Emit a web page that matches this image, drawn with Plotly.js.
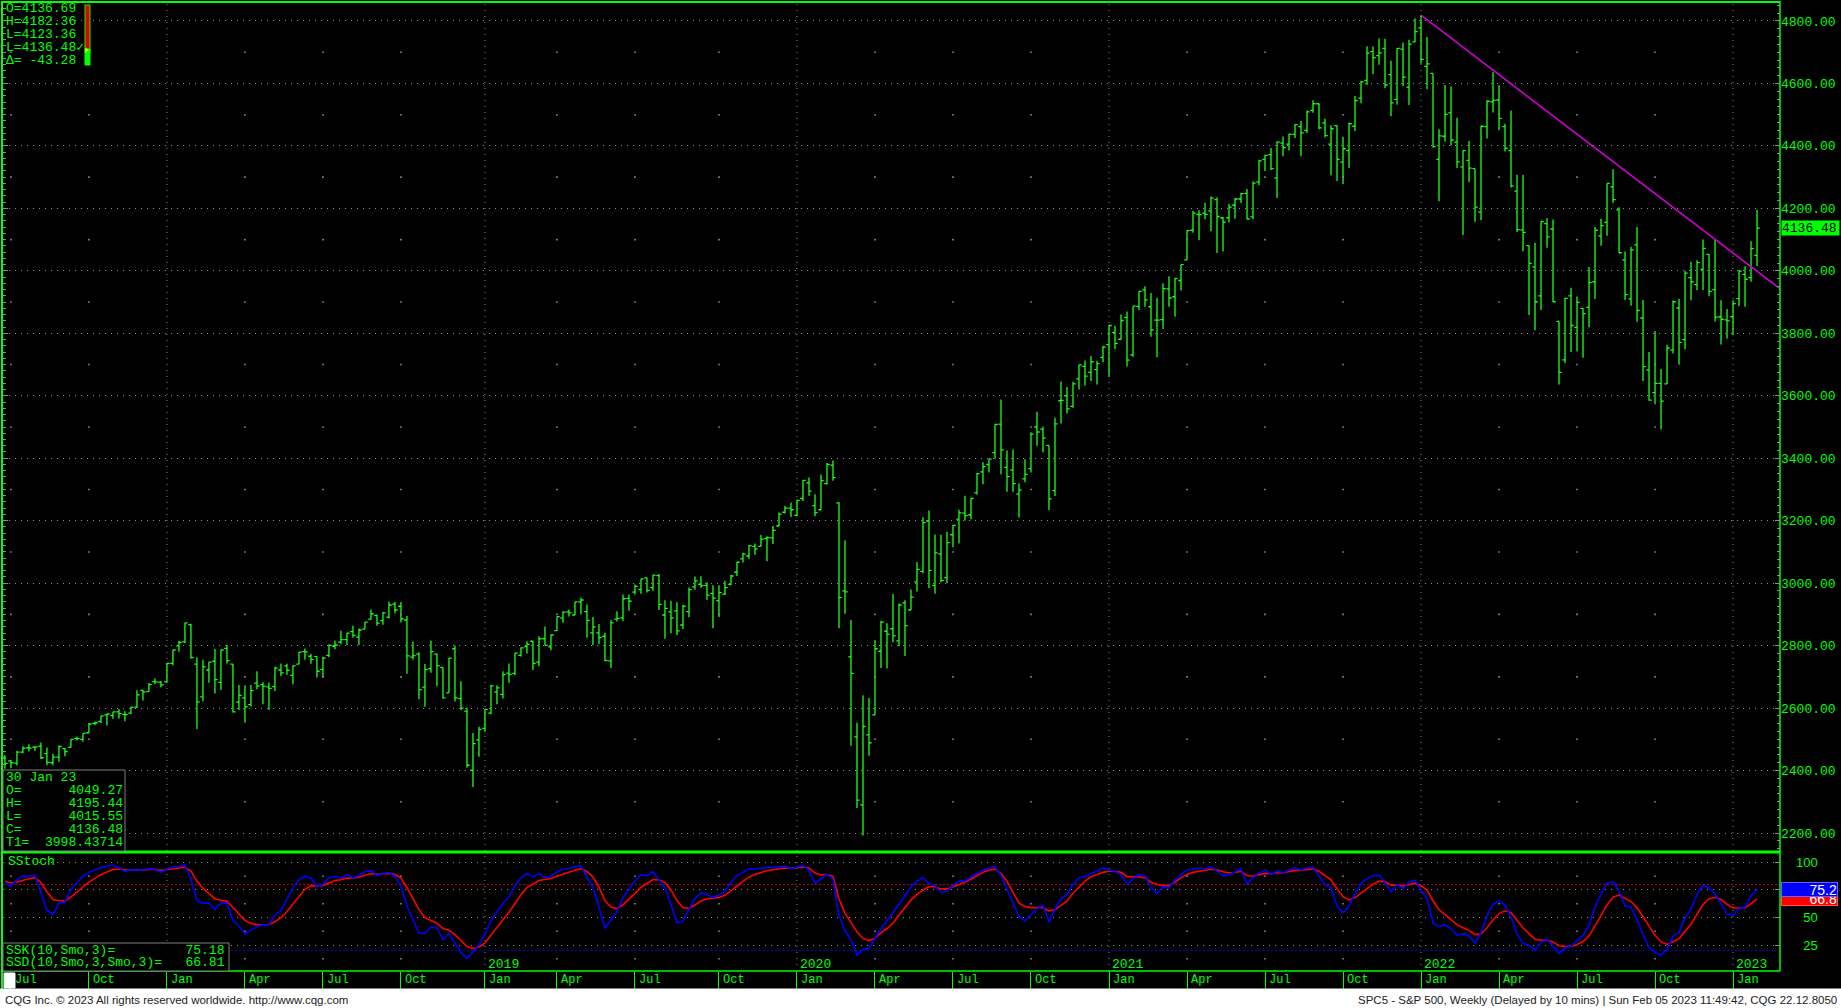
<!DOCTYPE html>
<html><head><meta charset="utf-8">
<script src="https://cdn.plot.ly/plotly-3.0.1.min.js"></script>
<style>html,body{margin:0;padding:0;background:#000;overflow:hidden}#chart{width:1841px;height:1008px}</style>
</head><body><div id="chart"></div>
<script>
// ---------------- DATA ----------------
const weekDates = [
'2017-06-26','2017-07-03','2017-07-10','2017-07-17','2017-07-24','2017-07-31','2017-08-07','2017-08-14','2017-08-21','2017-08-28','2017-09-04','2017-09-11','2017-09-18','2017-09-25','2017-10-02','2017-10-09','2017-10-16','2017-10-23','2017-10-30','2017-11-06','2017-11-13','2017-11-20','2017-11-27','2017-12-04','2017-12-11','2017-12-18','2017-12-25',
'2018-01-01','2018-01-08','2018-01-15','2018-01-22','2018-01-29','2018-02-05','2018-02-12','2018-02-19','2018-02-26','2018-03-05','2018-03-12','2018-03-19','2018-03-26','2018-04-02','2018-04-09','2018-04-16','2018-04-23','2018-04-30','2018-05-07','2018-05-14','2018-05-21','2018-05-28','2018-06-04','2018-06-11','2018-06-18','2018-06-25','2018-07-02','2018-07-09','2018-07-16','2018-07-23','2018-07-30','2018-08-06','2018-08-13','2018-08-20','2018-08-27','2018-09-03','2018-09-10','2018-09-17','2018-09-24','2018-10-01','2018-10-08','2018-10-15','2018-10-22','2018-10-29','2018-11-05','2018-11-12','2018-11-19','2018-11-26','2018-12-03','2018-12-10','2018-12-17','2018-12-24','2018-12-31',
'2019-01-07','2019-01-14','2019-01-21','2019-01-28','2019-02-04','2019-02-11','2019-02-18','2019-02-25','2019-03-04','2019-03-11','2019-03-18','2019-03-25','2019-04-01','2019-04-08','2019-04-15','2019-04-22','2019-04-29','2019-05-06','2019-05-13','2019-05-20','2019-05-27','2019-06-03','2019-06-10','2019-06-17','2019-06-24','2019-07-01','2019-07-08','2019-07-15','2019-07-22','2019-07-29','2019-08-05','2019-08-12','2019-08-19','2019-08-26','2019-09-02','2019-09-09','2019-09-16','2019-09-23','2019-09-30','2019-10-07','2019-10-14','2019-10-21','2019-10-28','2019-11-04','2019-11-11','2019-11-18','2019-11-25','2019-12-02','2019-12-09','2019-12-16','2019-12-23','2019-12-30',
'2020-01-06','2020-01-13','2020-01-20','2020-01-27','2020-02-03','2020-02-10','2020-02-17','2020-02-24','2020-03-02','2020-03-09','2020-03-16','2020-03-23','2020-03-30','2020-04-06','2020-04-13','2020-04-20','2020-04-27','2020-05-04','2020-05-11','2020-05-18','2020-05-25','2020-06-01','2020-06-08','2020-06-15','2020-06-22','2020-06-29','2020-07-06','2020-07-13','2020-07-20','2020-07-27','2020-08-03','2020-08-10','2020-08-17','2020-08-24','2020-08-31','2020-09-07','2020-09-14','2020-09-21','2020-09-28','2020-10-05','2020-10-12','2020-10-19','2020-10-26','2020-11-02','2020-11-09','2020-11-16','2020-11-23','2020-11-30','2020-12-07','2020-12-14','2020-12-21','2020-12-28',
'2021-01-04','2021-01-11','2021-01-18','2021-01-25','2021-02-01','2021-02-08','2021-02-15','2021-02-22','2021-03-01','2021-03-08','2021-03-15','2021-03-22','2021-03-29','2021-04-05','2021-04-12','2021-04-19','2021-04-26','2021-05-03','2021-05-10','2021-05-17','2021-05-24','2021-05-31','2021-06-07','2021-06-14','2021-06-21','2021-06-28','2021-07-05','2021-07-12','2021-07-19','2021-07-26','2021-08-02','2021-08-09','2021-08-16','2021-08-23','2021-08-30','2021-09-06','2021-09-13','2021-09-20','2021-09-27','2021-10-04','2021-10-11','2021-10-18','2021-10-25','2021-11-01','2021-11-08','2021-11-15','2021-11-22','2021-11-29','2021-12-06','2021-12-13','2021-12-20','2021-12-27',
'2022-01-03','2022-01-10','2022-01-17','2022-01-24','2022-01-31','2022-02-07','2022-02-14','2022-02-21','2022-02-28','2022-03-07','2022-03-14','2022-03-21','2022-03-28','2022-04-04','2022-04-11','2022-04-18','2022-04-25','2022-05-02','2022-05-09','2022-05-16','2022-05-23','2022-05-30','2022-06-06','2022-06-13','2022-06-20','2022-06-27','2022-07-04','2022-07-11','2022-07-18','2022-07-25','2022-08-01','2022-08-08','2022-08-15','2022-08-22','2022-08-29','2022-09-05','2022-09-12','2022-09-19','2022-09-26','2022-10-03','2022-10-10','2022-10-17','2022-10-24','2022-10-31','2022-11-07','2022-11-14','2022-11-21','2022-11-28','2022-12-05','2022-12-12','2022-12-19','2022-12-26',
'2023-01-02','2023-01-09','2023-01-16','2023-01-23','2023-01-30'];

const openVals = [
2443,2431,2424,2459,2473,2475,2478,2454,2425,2443,2470,2474,2503,2500,2521,2551,2557,2578,2576,2588,2580,2584,2603,2657,2653,2685,2683,
2684,2743,2799,2812,2867,2741,2636,2722,2750,2682,2791,2741,2619,2633,2611,2680,2675,2668,2669,2722,2735,2705,2741,2781,2766,2765,2724,2769,2798,2811,2819,2845,2827,2853,2885,2897,2880,2891,2933,2926,2882,2763,2773,2667,2726,2773,2730,2649,2790,2630,2590,2401,2498,
2535,2584,2651,2644,2712,2711,2769,2797,2814,2747,2822,2796,2848,2888,2908,2898,2940,2909,2841,2841,2830,2751,2885,2889,2951,2971,2980,3017,2986,3024,2898,2908,2911,2866,2909,2988,2996,2993,2967,2944,2965,2996,3035,3078,3087,3118,3118,3143,3145,3183,3227,3240,
3217,3271,3321,3248,3235,3319,3378,3257,2975,2764,2508,2290,2514,2578,2782,2846,2854,2815,2937,2914,3004,3038,3199,2993,3094,3018,3155,3205,3224,3219,3289,3356,3380,3418,3509,3371,3363,3285,3334,3367,3500,3493,3441,3296,3584,3600,3566,3654,3694,3675,3684,3723,
3764,3803,3781,3851,3731,3886,3939,3885,3842,3844,3942,3917,3969,4035,4130,4181,4185,4192,4228,4170,4170,4210,4230,4248,4173,4285,4357,4372,4297,4409,4406,4438,4462,4450,4514,4535,4474,4406,4465,4348,4385,4463,4553,4610,4702,4689,4712,4628,4549,4710,4588,4733,
4778,4655,4632,4357,4431,4506,4412,4333,4354,4327,4188,4462,4541,4547,4462,4385,4255,4131,4081,4013,3920,4151,4134,3838,3715,3920,3819,3880,3883,3965,4112,4155,4269,4195,4035,3910,4083,3849,3683,3610,3640,3638,3746,3881,3780,3978,3956,4005,4053,3940,3853,3843,
3853,3911,3989,3978,4049.27];

const highVals = [
2450,2434,2463,2478,2484,2478,2490,2474,2454,2480,2472,2500,2509,2519,2552,2557,2575,2582,2588,2597,2590,2605,2657,2659,2680,2695,2687,
2745,2787,2815,2873,2870,2763,2755,2748,2789,2787,2802,2741,2674,2673,2674,2718,2683,2682,2732,2743,2742,2737,2779,2791,2774,2765,2764,2804,2816,2848,2841,2864,2855,2876,2916,2900,2908,2941,2940,2940,2895,2813,2779,2741,2816,2775,2730,2760,2800,2686,2601,2520,2540,
2597,2675,2673,2718,2743,2776,2795,2814,2816,2830,2861,2836,2893,2910,2916,2940,2954,2932,2892,2869,2841,2882,2910,2964,2964,2996,3014,3018,3028,3029,2945,2944,2939,2930,2986,3021,3022,3003,2993,2993,3008,3027,3067,3097,3121,3127,3154,3150,3183,3226,3247,3258,
3267,3330,3338,3285,3348,3385,3393,3259,3137,2882,2553,2641,2632,2818,2880,2872,2965,2935,2945,2980,3068,3211,3233,3156,3155,3165,3187,3235,3280,3272,3352,3387,3399,3509,3588,3425,3428,3320,3397,3483,3549,3502,3441,3530,3646,3628,3645,3699,3713,3727,3712,3760,
3827,3824,3860,3870,3887,3935,3951,3929,3914,3960,3983,3978,4020,4130,4192,4194,4218,4238,4236,4172,4214,4233,4249,4262,4286,4356,4372,4393,4415,4430,4440,4469,4480,4513,4546,4536,4487,4466,4466,4429,4475,4560,4608,4719,4718,4744,4743,4673,4713,4731,4740,4808,
4819,4749,4632,4453,4595,4590,4490,4386,4416,4327,4465,4546,4637,4594,4471,4513,4308,4307,4081,4090,4158,4169,4164,3838,3913,3946,3918,3880,4012,4140,4167,4280,4325,4204,4062,4076,4140,3907,3740,3807,3686,3763,3905,3911,4000,4029,4034,4100,4053,4101,3906,3878,
3906,4003,4015,4095,4195.44];

const lowVals = [
2406,2407,2416,2455,2461,2463,2437,2417,2417,2428,2446,2474,2496,2492,2521,2545,2552,2544,2566,2567,2558,2581,2600,2624,2653,2676,2667,
2683,2737,2780,2808,2759,2533,2622,2681,2647,2658,2743,2586,2594,2553,2605,2660,2612,2594,2655,2703,2707,2676,2740,2755,2742,2698,2698,2763,2788,2804,2802,2825,2802,2853,2883,2864,2867,2887,2904,2874,2710,2755,2628,2604,2713,2670,2631,2649,2621,2593,2409,2347,2444,
2524,2580,2612,2631,2681,2705,2765,2775,2722,2734,2800,2785,2848,2873,2893,2898,2900,2825,2801,2805,2750,2728,2877,2878,2912,2964,2966,2970,2976,2914,2822,2840,2834,2853,2891,2979,2985,2946,2856,2892,2962,2993,3023,3066,3078,3091,3117,3070,3125,3183,3223,3212,
3214,3263,3280,3214,3235,3316,3328,2856,2902,2479,2280,2192,2447,2578,2728,2727,2811,2798,2767,2914,2973,3032,2984,2966,3003,3000,3115,3127,3201,3205,3284,3317,3354,3398,3349,3293,3292,3210,3323,3354,3440,3419,3234,3279,3511,3543,3562,3620,3633,3647,3636,3707,
3662,3750,3780,3694,3725,3875,3885,3789,3723,3814,3885,3853,3937,4035,4122,4098,4165,4127,4057,4062,4155,4167,4217,4165,4165,4275,4320,4323,4233,4367,4385,4425,4367,4441,4506,4453,4428,4306,4288,4278,4329,4448,4537,4595,4630,4660,4585,4495,4532,4592,4531,4733,
4663,4582,4395,4223,4414,4401,4329,4115,4284,4157,4162,4424,4507,4450,4382,4267,4124,4063,3859,3810,3875,4074,3900,3636,3705,3740,3742,3722,3819,3910,4080,4112,4218,4057,3907,3888,3837,3647,3584,3573,3492,3638,3735,3699,3749,3906,3938,3939,3919,3838,3764,3783,
3795,3887,3885,3965,4015.55];

const closeVals = [
2423,2425,2459,2472,2472,2476,2441,2426,2443,2477,2461,2500,2502,2519,2549,2553,2575,2581,2588,2582,2579,2602,2642,2652,2675,2684,2674,
2743,2786,2810,2873,2762,2620,2732,2747,2691,2786,2752,2588,2641,2604,2656,2670,2670,2663,2728,2713,2721,2735,2779,2780,2755,2718,2760,2801,2802,2819,2840,2833,2850,2875,2902,2872,2905,2930,2914,2886,2767,2768,2659,2723,2781,2736,2633,2760,2633,2600,2417,2486,2532,
2596,2671,2665,2707,2708,2776,2793,2804,2743,2822,2801,2834,2893,2907,2905,2940,2946,2881,2860,2826,2752,2873,2887,2950,2942,2990,3014,2977,3026,2932,2919,2889,2847,2926,2979,3007,2992,2962,2952,2970,2986,3023,3067,3093,3120,3110,3141,3146,3169,3221,3240,3235,
3265,3329,3295,3226,3328,3380,3338,2954,2972,2711,2305,2541,2489,2790,2875,2837,2831,2930,2864,2955,3044,3194,3041,3097,3009,3130,3185,3225,3216,3271,3351,3373,3397,3508,3427,3341,3319,3298,3348,3477,3484,3465,3270,3510,3585,3558,3638,3699,3663,3709,3703,3756,
3825,3768,3841,3714,3887,3934,3907,3811,3842,3943,3913,3975,4020,4129,4185,4180,4181,4233,4174,4156,4204,4230,4247,4166,4281,4352,4370,4327,4412,4395,4437,4468,4442,4509,4535,4458,4433,4455,4357,4391,4471,4545,4605,4697,4683,4698,4595,4538,4712,4620,4726,4766,
4677,4663,4398,4432,4501,4419,4349,4385,4329,4204,4463,4543,4546,4488,4392,4272,4132,4123,4024,3901,4158,4109,3901,3675,3912,3825,3899,3863,3962,4130,4145,4280,4228,4058,3924,4067,3873,3693,3586,3640,3583,3753,3901,3771,3993,3965,4026,4072,3934,3852,3845,3840,
3895,3999,3973,4071,4136.48];

const sskVals = [
82,78.3,84.2,87.8,87.5,88.3,72.9,56.6,52.4,63.3,63.9,75.9,81.3,87.5,91.0,93.0,95.3,96.5,97.7,95.1,91.7,93.5,92.7,93.5,94.3,93.9,91.3,
93.9,95.9,96.6,97.7,84.8,65.2,63.1,63.1,57.4,62.9,63.3,47.5,42.3,35.2,38.8,41.5,43.3,43.5,52.3,56.2,66.8,76.5,84.3,87.5,85.7,78.1,80.1,86.1,87.4,85.9,88.9,86.3,88.2,91.8,92.5,88.3,89.9,90.9,87.6,78.4,60.6,48.7,35.8,35.5,41.3,40.5,30.0,35.3,26.5,18.3,12.9,18.6,25.4,
34.6,47.1,54.7,62.8,68.5,79.0,86.0,90.0,86.7,90.1,86.4,87.3,91.5,94.0,94.3,96.2,96.5,87.3,77.2,59.5,40.0,48.0,55.3,68.2,75.8,83.2,88.8,87.9,91.6,83.7,76.8,61.9,45.3,46.9,56.6,67.4,72.3,70.9,68.3,70.2,73.8,81.9,87.9,91.3,94.2,94.1,94.7,95.5,95.3,96.2,96.5,94.3,
95.9,97.3,92.9,81.3,85.2,89.5,84.3,52,38,30,16,21,22,31,40,47,54,62,70,78,83,86,81,79,73,74,79,83,83,87,90,93,95,96,88,76,63,51,47,53,58,61,46,58,67,71,80,86,87,90,92,95,
93,92,89,80,85,89,88,77,72,78,77,84,89,93,94,95,94.3,95.9,92.3,87.9,88.9,91.6,94.1,80.4,86.3,90.5,93.3,88.9,92.3,90.5,93.3,95.5,93.0,95.0,95.5,87.7,79.8,76.9,60.3,54.2,60.1,71.7,80.8,85.5,87.7,88.5,81.7,73.1,79.7,76.5,82.3,83.9,
74.6,67.1,45.1,41.7,43.5,40.0,33.7,35.1,33.4,26.6,36.1,51.7,62.1,65.1,61.1,50.7,34.8,26.5,24.7,20.1,27.4,30.3,24.2,17.5,22.0,24.0,29.0,33.7,42.8,59.5,71.3,80.9,82.6,74.1,60.4,59.3,47.9,34.3,22.9,18.3,15.9,20.9,32.9,36.3,49.9,57.6,71.2,79.1,77.1,71.1,62.4,53.3,
51.9,58.3,59.5,70.0,75.18];

const ssdVals = [
83,81.4,82.3,84.1,85.2,86.2,81.8,73.4,66.4,65.4,64.9,68.6,72.8,77.7,82.1,85.7,88.9,91.4,93.5,94.0,93.2,93.3,93.1,93.2,93.6,93.7,92.9,
93.2,94.1,94.9,95.8,92.1,83.1,76.4,72.0,67.1,65.7,64.9,59.1,53.5,47.4,44.5,43.5,43.4,43.4,46.4,49.7,55.4,62.4,69.7,75.6,79.0,78.7,79.2,81.5,83.5,84.3,85.8,86.0,86.7,88.4,89.8,89.3,89.5,90.0,89.2,85.6,77.3,67.8,57.1,49.9,47.0,44.8,39.9,38.4,34.4,29.0,23.6,21.9,23.1,
26.9,33.6,40.6,48.0,54.8,62.9,70.6,77.1,80.3,83.6,84.5,85.4,87.4,89.6,91.2,92.9,94.1,91.8,86.9,77.8,65.2,59.5,58.1,61.5,66.3,71.9,77.5,81.0,84.5,84.2,81.7,75.1,65.2,59.1,58.3,61.3,65.0,67.0,67.4,68.3,70.1,74.0,78.6,82.8,86.6,89.1,91.0,92.5,93.4,94.3,95.0,94.8,
95.2,95.9,94.9,90.4,88.7,89.0,87.4,67,54,45,37,31,29,31,36,40,45,52,59,66,71,75,78,78,76,76,78,80,82,85,88,91,93,94,90,83,73,63,60,59,59,59,56,57,61,65,72,78,83,87,89,91,
92,92,91,87,87,87,86,82,80,79,79,82,86,89,91,92,92.8,93.8,93.3,91.5,90.6,90.9,92.0,88.1,87.5,88.5,90.1,89.7,90.6,90.6,91.5,92.8,92.9,93.6,94.2,92.0,87.9,84.2,76.2,68.9,66.0,67.9,72.2,76.6,80.3,83.0,82.6,79.4,79.5,78.5,79.8,81.2,
79.0,75.0,65.0,57.2,52.6,48.4,43.5,40.7,38.3,34.4,35.0,40.6,47.8,53.6,56.1,54.3,47.8,40.7,35.4,30.3,29.3,29.6,27.8,24.4,23.6,23.7,25.5,28.2,33.1,41.9,51.7,61.4,68.5,70.4,67.1,64.5,59.0,50.8,41.5,33.8,27.8,25.5,28.0,30.8,37.2,44.0,53.1,61.8,66.9,68.3,66.3,62.0,
58.6,58.5,58.8,62.5,66.81];

const trendDates = ['2022-01-03', '2023-02-27'];
const trendVals = [4818.62, 3939.9];

const quarterDates = ['2017-07-03','2017-10-02','2018-01-01','2018-04-02','2018-07-02','2018-10-01','2019-01-07','2019-04-01','2019-07-01','2019-10-07','2020-01-06','2020-04-06','2020-07-06','2020-10-05','2021-01-04','2021-04-05','2021-07-05','2021-10-04','2022-01-03','2022-04-04','2022-07-04','2022-10-03','2023-01-02'];
const quarterLabels = ['Jul','Oct','Jan','Apr','Jul','Oct','Jan','Apr','Jul','Oct','Jan','Apr','Jul','Oct','Jan','Apr','Jul','Oct','Jan','Apr','Jul','Oct','Jan'];
const yearDates = ['2019-01-07','2020-01-06','2021-01-04','2022-01-03','2023-01-02'];
const yearLabels = ['2019','2020','2021','2022','2023'];
const priceTicks = [2200,2400,2600,2800,3000,3200,3400,3600,3800,4000,4200,4400,4600,4800];
const stochTicks = [25,50,75,100];
const stochTickText = ['\u00a0\u00a025','\u00a0\u00a050','','100'];
const stochBands = [20, 80];

const quoteLines = ['O=4136.69','H=4182.36','L=4123.36','L=4136.48\u2713','\u0394= -43.28'];
const barInfoDate = '30 Jan 23';
const barInfoLabels = ['O=','H=','L=','C=','T1='];
const barInfoValues = ['4049.27','4195.44','4015.55','4136.48','3998.43714'];
const stochInfoLabels = ['SSK(10,Smo,3)=','SSD(10,Smo,3,Smo,3)='];
const stochInfoValues = ['75.18','66.81'];
const footerLeft = 'CQG Inc. \u00a9 2023 All rights reserved worldwide. http://www.cqg.com';
const footerRight = 'SPC5 - S&P 500, Weekly (Delayed by 10 mins) | Sun Feb 05 2023 11:49:42, CQG 22.12.8050';

// ---------------- LAYOUT HELPERS ----------------
const W = 1841, H = 1008, PL = 3, PR = 1780, PT = 3, PB = 971;
const px = x => (x - PL) / (PR - PL);
const py = y => (PB - y) / (PB - PT);
const sepY = py(852);
const GREEN = '#00ff00', BAR = '#1cff1c', GRID = '#8c8c8c';
const MONO = 'Liberation Mono, DejaVu Sans Mono, monospace';
const SANS = 'Liberation Sans, Arial, sans-serif';
const nb = n => '\u00a0'.repeat(Math.max(0, n));
const padLine = (a, b, w) => a + nb(w - a.length - b.length) + b;

// minor grid dots at quarter columns (non-January) and half levels
const minorCols = quarterDates.filter((d, i) => quarterLabels[i] !== 'Jan');
const priceHalf = priceTicks.slice(0, -1).map((v, i) => (v + priceTicks[i + 1]) / 2);
const stochHalf = stochTicks.map(v => v - 12.5);
const dotX = [], dotY = [], dot2X = [], dot2Y = [];
minorCols.forEach(d => {
  priceHalf.forEach(v => { dotX.push(d); dotY.push(v); });
  stochHalf.forEach(v => { dot2X.push(d); dot2Y.push(v); });
});

const traces = [
  {type:'scatter', mode:'markers', x:dotX, y:dotY, xaxis:'x', yaxis:'y', hoverinfo:'skip',
   marker:{symbol:'square', size:1.6, color:GRID, line:{width:0}}},
  {type:'scatter', mode:'markers', x:dot2X, y:dot2Y, xaxis:'x', yaxis:'y2', hoverinfo:'skip',
   marker:{symbol:'square', size:1.6, color:GRID, line:{width:0}}},
  {type:'ohlc', x:weekDates, open:openVals, high:highVals, low:lowVals, close:closeVals,
   xaxis:'x', yaxis:'y', tickwidth:0.45, hoverinfo:'skip',
   increasing:{line:{color:BAR, width:1.3}}, decreasing:{line:{color:BAR, width:1.3}}},
  {type:'scatter', mode:'lines', x:trendDates, y:trendVals, xaxis:'x', yaxis:'y', hoverinfo:'skip',
   line:{color:'#d000d0', width:1.6}},
  {type:'scatter', mode:'lines', x:weekDates, y:ssdVals, xaxis:'x', yaxis:'y2', hoverinfo:'skip',
   line:{color:'#ff0000', width:1.6}},
  {type:'scatter', mode:'lines', x:weekDates, y:sskVals, xaxis:'x', yaxis:'y2', hoverinfo:'skip',
   line:{color:'#0000ff', width:1.6}},
  {type:'scatter', mode:'markers', x:[weekDates[0]], y:[closeVals[0]], xaxis:'x', yaxis:'y3', hoverinfo:'skip',
   marker:{opacity:0}}
];

const shapes = [];
// January dotted verticals
yearDates.concat(['2018-01-01']).forEach(d => shapes.push({type:'line', xref:'x', yref:'paper', x0:d, x1:d, y0:0, y1:1,
  line:{color:GRID, width:1, dash:'1px,5px'}, layer:'below'}));
// 80 / 20 bands
shapes.push({type:'line', xref:'paper', yref:'y2', x0:0, x1:1, y0:stochBands[1], y1:stochBands[1], line:{color:'#c00000', width:1, dash:'2px,2px'}, layer:'below'});
shapes.push({type:'line', xref:'paper', yref:'y2', x0:0, x1:1, y0:stochBands[0], y1:stochBands[0], line:{color:'#0000d0', width:1, dash:'2px,2px'}, layer:'below'});
// frame
const gline = (x0,y0,x1,y1,w) => shapes.push({type:'line', xref:'paper', yref:'paper', x0:px(x0), y0:py(y0), x1:px(x1), y1:py(y1), line:{color:GREEN, width:w}, layer:'above'});
gline(1, 2, 1780, 2, 2);
gline(2, 1, 2, 989, 2);
gline(1780, 1, 1780, 971, 1.5);
gline(1, 852, 1780, 852, 3);
gline(1, 971, 1780, 971, 1.5);
// info boxes
const box = (x0,y0,x1,y1,fill,lc) => shapes.push({type:'rect', xref:'paper', yref:'paper', x0:px(x0), y0:py(y1), x1:px(x1), y1:py(y0), fillcolor:fill, line:{color:lc, width:1}, layer:'above'});
box(3, 770, 125, 851, '#000', '#808080');
box(3, 943, 229, 971, '#000', '#808080');
// footer + small white square
box(-5, 989, 1850, 1012, '#ffffff', '#ffffff');
box(4, 973, 15, 988, '#ffffff', '#ffffff');
// price indicator bar
box(85, 5, 90, 53, '#e00000', GREEN);
box(85, 49, 90, 65, GREEN, GREEN);
shapes.push({type:'path', xref:'paper', yref:'paper', path:`M ${px(85.5)} ${py(47.5)} L ${px(88.5)} ${py(50)} L ${px(85.5)} ${py(52.5)} Z`, fillcolor:'#ffff00', line:{width:0}, layer:'above'});

const ann = [];
const txt = (text, x, y, o) => ann.push(Object.assign({xref:'paper', yref:'paper', x:px(x), y:py(y), xanchor:'left', yanchor:'middle',
  text, showarrow:false, font:{family:MONO, size:13, color:GREEN}}, o || {}));
quoteLines.forEach((t, i) => txt(t, 4, 8.5 + i * 13));
txt(barInfoDate, 4, 777);
barInfoLabels.forEach((l, i) => txt(padLine(l, barInfoValues[i], 15), 4, 790 + i * 13));
stochInfoLabels.forEach((l, i) => txt(padLine(l, stochInfoValues[i], 28), 4, 950 + i * 12));
txt('SStoch', 6, 861);
quarterDates.forEach((d, i) => ann.push({xref:'x', yref:'paper', x:d, y:py(980), xanchor:'left', yanchor:'middle', xshift:2,
  text:quarterLabels[i], showarrow:false, font:{family:MONO, size:12, color:GREEN}}));
yearDates.forEach((d, i) => ann.push({xref:'x', yref:'paper', x:d, y:py(964), xanchor:'left', yanchor:'middle', xshift:1,
  text:yearLabels[i], showarrow:false, font:{family:MONO, size:13, color:GREEN}}));
const lastClose = closeVals[closeVals.length - 1];
ann.push({xref:'paper', yref:'y', x:1, y:lastClose, xanchor:'left', yanchor:'middle', xshift:1, text:lastClose.toFixed(2),
  showarrow:false, bgcolor:GREEN, width:57, height:14, align:'left', borderpad:0, font:{family:MONO, size:13, color:'#000'}});
const lastSSD = ssdVals[ssdVals.length - 1], lastSSK = sskVals[sskVals.length - 1];
ann.push({xref:'paper', yref:'y2', x:1, y:lastSSD, xanchor:'left', yanchor:'middle', xshift:1, text:lastSSD.toFixed(1),
  showarrow:false, bgcolor:'#ff0000', bordercolor:'#ff5050', borderwidth:1, width:55, height:13, align:'right', borderpad:0, font:{family:SANS, size:14, color:'#fff'}});
ann.push({xref:'paper', yref:'y2', x:1, y:lastSSK, xanchor:'left', yanchor:'middle', xshift:1, text:lastSSK.toFixed(1),
  showarrow:false, bgcolor:'#0000ff', bordercolor:'#6060ff', borderwidth:1, width:55, height:13, align:'right', borderpad:0, font:{family:SANS, size:14, color:'#fff'}});
ann.push({xref:'paper', yref:'paper', x:px(3), y:py(1000), xanchor:'left', yanchor:'middle', text:footerLeft, showarrow:false,
  font:{family:SANS, size:11.5, color:'#222'}});
ann.push({xref:'paper', yref:'paper', x:px(1839), y:py(1000), xanchor:'right', yanchor:'middle', text:footerRight, showarrow:false,
  font:{family:SANS, size:11.5, color:'#222'}});

const layout = {
  width:W, height:H, margin:{l:PL, r:W - PR, t:PT, b:H - PB, pad:0},
  paper_bgcolor:'#000', plot_bgcolor:'#000', showlegend:false, hovermode:false, dragmode:false,
  xaxis:{type:'date', range:['2017-06-23 18:00','2023-02-25 19:00'], anchor:'y2', rangeslider:{visible:false},
    tickmode:'array', tickvals:quarterDates, showticklabels:false, ticks:'outside', ticklen:17, tickcolor:GREEN, tickwidth:1,
    showgrid:false, zeroline:false, showline:false, fixedrange:true},
  yaxis:{domain:[sepY, 1], range:[2139.2, 4857.6], side:'right', anchor:'x', tickmode:'array', tickvals:priceTicks, tickformat:'.2f',
    ticks:'inside', ticklen:5, tickcolor:GRID, showgrid:true, gridcolor:GRID, gridwidth:1, griddash:'1px,5px',
    minor:{dtick:25, tick0:0, ticks:'inside', ticklen:3, tickcolor:GRID, showgrid:false},
    tickfont:{family:MONO, size:13, color:GREEN}, zeroline:false, showline:false, fixedrange:true},
  yaxis2:{domain:[0, sepY], range:[1.4, 109.5], side:'right', anchor:'x', tickmode:'array', tickvals:stochTicks, ticktext:stochTickText,
    ticks:'inside', ticklen:5, tickcolor:GRID, showgrid:true, gridcolor:GRID, gridwidth:1, griddash:'1px,5px', ticklabelstandoff:15,
    tickfont:{family:SANS, size:13, color:GREEN}, zeroline:false, showline:false, fixedrange:true},
  yaxis3:{overlaying:'y', anchor:'x', side:'left', range:[2139.2, 4857.6], tickmode:'linear', dtick:200, tick0:0, ticks:'inside', ticklen:5,
    tickcolor:GRID, minor:{dtick:20, tick0:0, ticks:'inside', ticklen:3, tickcolor:GRID}, showticklabels:false, showgrid:false,
    zeroline:false, showline:false, fixedrange:true},
  shapes, annotations:ann
};

Plotly.newPlot('chart', traces, layout, {displayModeBar:false, staticPlot:true});
</script></body></html>
